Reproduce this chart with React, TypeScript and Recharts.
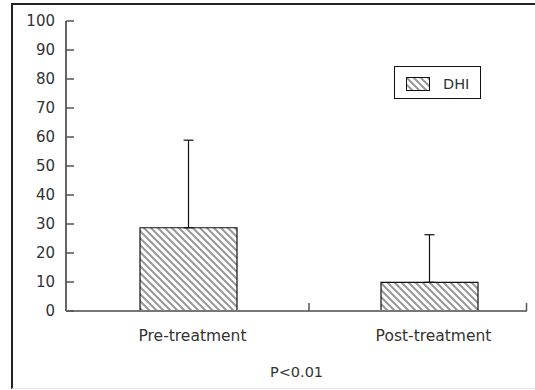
import React from 'react'
import { BarChart, Bar, XAxis, YAxis, ErrorBar, Legend } from 'recharts'

// values
const groups = ['Pre-treatment', 'Post-treatment']
const dhiMean = [28.7, 9.9]
const dhiSd = [30.2, 16.4]
const yTicks = [0, 10, 20, 30, 40, 50, 60, 70, 80, 90, 100]

const data = groups.map((g, i) => ({
  name: g,
  DHI: dhiMean[i],
  err: [0, dhiSd[i]],
}))

const FONT = '"DejaVu Sans", sans-serif'
const W = 535
const H = 390
const MARGIN = { top: 21, right: 8, bottom: 9, left: 0 }

function YTick(props: any) {
  const { x, y, payload } = props
  // x is the label anchor; axis line sits 13px to the right
  return (
    <g>
      <line x1={x + 13} x2={x + 21} y1={y} y2={y} stroke="#555" strokeWidth={1.5} />
      <text x={x + 2} y={y} dy="0.36em" textAnchor="end" fill="#333" fontSize={15} fontFamily={FONT}>
        {payload.value}
      </text>
    </g>
  )
}

function XTick(props: any) {
  const { x, y, payload, index } = props
  const half = payload.offset || 0
  const axisY = y - 8
  return (
    <g>
      {index === 0 && (
        <line x1={x + half} x2={x + half} y1={axisY} y2={axisY - 8} stroke="#555" strokeWidth={1.5} />
      )}
      {index === groups.length - 1 && (
        <line x1={W - MARGIN.right - 0.5} x2={W - MARGIN.right - 0.5} y1={axisY} y2={axisY - 8} stroke="#555" strokeWidth={1.5} />
      )}
      <text x={x + 4} y={y + 17} dy="0.35em" textAnchor="middle" fill="#333" fontSize={15.5} fontFamily={FONT}>
        {payload.value}
      </text>
    </g>
  )
}

function LegendBox() {
  return (
    <div
      style={{
        border: '1px solid #111',
        width: 87,
        height: 33,
        boxSizing: 'border-box',
        display: 'flex',
        alignItems: 'center',
        fontFamily: FONT,
        fontSize: 14.5,
        color: '#333',
        background: '#fff',
      }}
    >
      <svg width={24} height={14} style={{ marginLeft: 11, marginTop: 2 }}>
        <defs>
          <pattern id="hatchLeg" patternUnits="userSpaceOnUse" width={7} height={7}>
            <rect width={7} height={7} fill="#fff" />
            <path d="M-1,-1 L8,8 M-1,6 L1,8 M6,-1 L8,1" stroke="#999" strokeWidth={2} />
          </pattern>
        </defs>
        <rect x={0.5} y={0.5} width={23} height={13} fill="url(#hatchLeg)" stroke="#111" strokeWidth={1} />
      </svg>
      <span style={{ marginLeft: 13, marginTop: 2 }}>DHI</span>
    </div>
  )
}

export default function App() {
  return (
    <div style={{ position: 'absolute', left: 0, top: 0, width: W, height: H, background: '#fff' }}>
      <div
        style={{
          position: 'absolute',
          left: 11,
          top: 3,
          width: W - 11,
          height: H - 4,
          borderTop: '2px solid #222',
          borderLeft: '2px solid #222',
          borderBottom: '1px solid #e4e4e4',
          boxSizing: 'border-box',
        }}
      />
      <BarChart width={W} height={H} data={data} margin={MARGIN} style={{ position: 'absolute', left: 0, top: 0 }}>
        <defs>
          <pattern id="hatch" patternUnits="userSpaceOnUse" width={7} height={7}>
            <rect width={7} height={7} fill="#fff" />
            <path d="M-1,-1 L8,8 M-1,6 L1,8 M6,-1 L8,1" stroke="#999" strokeWidth={2} />
          </pattern>
        </defs>
        <XAxis
          dataKey="name"
          height={70}
          padding={{ left: 2, right: -23 }}
          axisLine={{ stroke: '#777', strokeWidth: 2 }}
          tickLine={false}
          tick={<XTick />}
          interval={0}
          label={{ value: 'P<0.01', position: 'insideBottom', offset: 4, fill: '#333', fontSize: 14.5, fontFamily: FONT }}
        />
        <YAxis
          width={66}
          domain={[0, 100]}
          ticks={yTicks}
          interval={0}
          tickSize={6}
          tickMargin={7}
          tickLine={false}
          axisLine={{ stroke: '#666', strokeWidth: 2 }}
          tick={<YTick />}
        />
        <Legend
          layout="horizontal"
          verticalAlign="middle"
          align="center"
          content={<LegendBox />}
          wrapperStyle={{ left: 394, top: 66, width: 87, height: 33 }}
        />
        <Bar dataKey="DHI" barSize={97} fill="url(#hatch)" stroke="#111" strokeWidth={1.2} isAnimationActive={false}>
          <ErrorBar dataKey="err" direction="y" width={5} stroke="#111" strokeWidth={1.2} isAnimationActive={false} />
        </Bar>
      </BarChart>
    </div>
  )
}
